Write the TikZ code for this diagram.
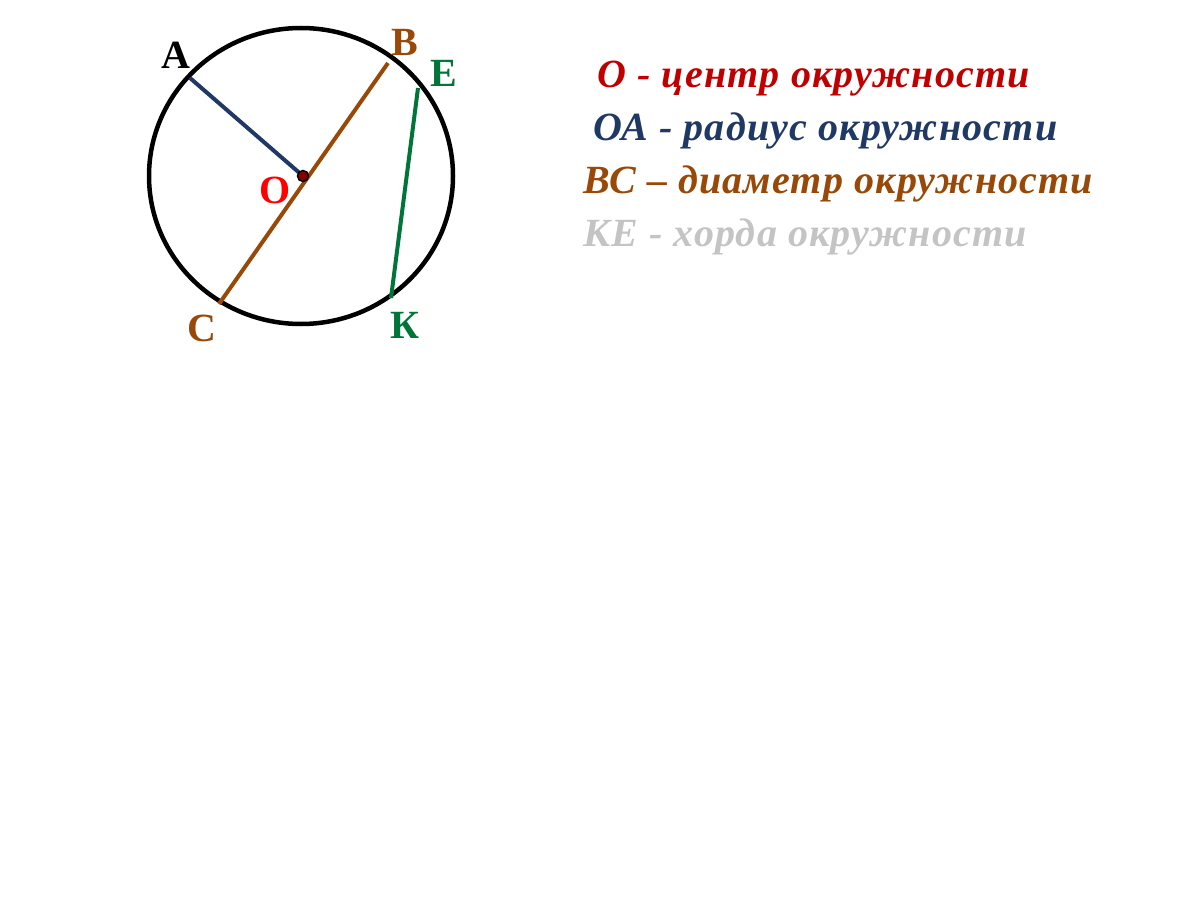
\documentclass[tikz,border=0pt]{standalone}
\usepackage{fontspec}
\setmainfont{Liberation Serif}
\newfontfamily\spaced[LetterSpace=3]{Liberation Serif}
\definecolor{cred}{HTML}{C00000}
\definecolor{cnavy}{HTML}{1F3864}
\definecolor{cbrown}{HTML}{984807}
\definecolor{cgreen}{HTML}{00753A}
\definecolor{cgray}{HTML}{C4C4C4}
\begin{document}
\begin{tikzpicture}[x=1pt,y=-1pt,
  lbl/.style={font=\fontsize{40}{40}\selectfont\bfseries, inner sep=0pt},
  txt/.style={font=\spaced\fontsize{40}{40}\selectfont\bfseries\itshape, inner sep=0pt, anchor=base west},
  seg/.style={line width=4pt}]
\useasboundingbox (0,0) rectangle (1200,907);
% circle
\draw[line width=4.5pt] (301,176) ellipse [x radius=152, y radius=148];
\coordinate (O) at (303,176);
\coordinate (A) at (190,78);
\coordinate (B) at (388,63);
\coordinate (C) at (219,304);
\coordinate (E) at (418,88);
\coordinate (K) at (391,298);
\draw[seg, cnavy] (A) -- (O);
\draw[seg, cbrown] (C) -- (B);
\draw[seg, cgreen] (K) -- (E);
\fill[fill=cred!70!black, draw=black, line width=1.5pt] (O) circle (5.5);
% labels
\node[lbl] (lA) at (176,55) {A};
\node[lbl, text=cbrown] (lB) at (405,42) {B};
\node[lbl, text=cgreen] (lE) at (444,73) {E};
\node[lbl, text=red] (lO) at (275,190) {O};
\node[lbl, text=cbrown] (lC) at (202,328) {C};
\node[lbl, text=cgreen] (lK) at (405,325) {К};
% text lines
\node[txt, text=cred] (t1) at (597,88) {О - центр окружности};
\node[txt, text=cnavy] (t2) at (593,140) {ОА - радиус окружности};
\node[txt, text=cbrown] (t3) at (583,193) {ВС – диаметр окружности};
\node[txt, text=cgray] (t4) at (583,246) {КЕ - хорда окружности};
\end{tikzpicture}
\end{document}
